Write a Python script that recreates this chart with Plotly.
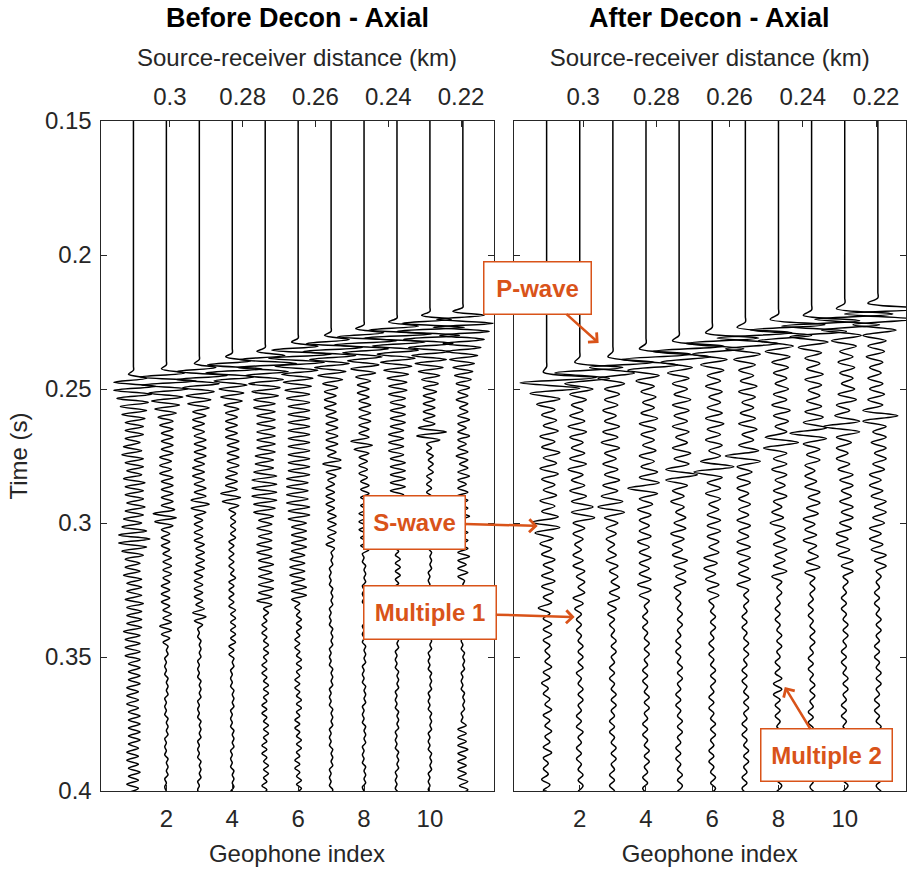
import plotly.graph_objects as go

# ---- axes data -------------------------------------------------------------
GEOPHONES = list(range(1, 12))
TIME_TICKS = [0.15, 0.2, 0.25, 0.3, 0.35, 0.4]
TIME_LABELS = ["0.15", "0.2", "0.25", "0.3", "0.35", "0.4"]
INDEX_TICKS = [2, 4, 6, 8, 10]
DIST_TICKS_KM = [0.3, 0.28, 0.26, 0.24, 0.22]
DIST_LABELS = ["0.3", "0.28", "0.26", "0.24", "0.22"]
FIRST_OFFSET_KM = 0.31          # source-receiver distance of geophone 1
GEOPHONE_SPACING_KM = 0.00905   # offset decrease per geophone
T_MIN, T_MAX = 0.15, 0.4

# ---- trace data --------------------------------------------------------------
# Each trace: first-break time (s), then the successive peak/trough
# deflections sampled every DT seconds, one base-36 character per extremum
# (unit AMP_UNIT of trace spacing), polarity alternating right/left.
AMP_UNIT = 0.05

BEFORE_DT = 0.0015
BEFORE_ONSET = [0.243, 0.241, 0.239, 0.2365, 0.2345, 0.231, 0.2285, 0.226, 0.2235, 0.221, 0.2195]
BEFORE_PEAKS = [
    ["038cecba98877", "56565465765645675656475665", "789a9876",
     "5454654545564545456454545", "4343434434343343434343343433433433"],
    ["03bgifdba9876", "54443434344343443434343", "586743",
     "232322323232232323223", "2343322", "1011010110101101011010110101101011010"],
    ["03aeheca98776", "444343343434334343343", "45654",
     "3232323323232332323232", "234432", "101101011010110101101011010110101101011010"],
    ["04bfigdb98776", "544343434434343433434", "37564",
     "2212121221212121122121212212121212212", "1011010110101101011010110101101011"],
    ["05cgjhecba988", "767656565656566565", "77878787767",
     "54454445454454445454454", "12112121121211212112121121211212112121121211212"],
    ["04cgkigeca998", "8777676767676", "76767676776767677676",
     "54545454454545445454", "121121211212112121121211212112121121211212112121"],
    ["04bfjhfdba987", "544343433434343433", "26563", "3223232322323232232",
     "0101101011010110101101011010110101101011010110101101011010110"],
    ["05cgkifdba987", "5443433434343333", "8563", "323232232323223232322323",
     "101101011010110101101011010110101101011010110101101011010110"],
    ["05dhlkhfdcba9", "876656554545454454545445454545445454454",
     "2212121121212112121211010110101101011010110101101011010110101101011"],
    ["05dhlkigedcba", "9876554443434343", "7a86",
     "2122121221212122121101101011010110101101011010110101101011010110101101011010110101101011"],
    ["06dgjigedcba9", "87665544", "33432334323432334323343233432334323343233432333",
     "101101011010110101101011010110101101", "232323332323233232"],
]

AFTER_DT = 0.002
AFTER_ONSET = [0.2417, 0.238, 0.236, 0.233, 0.23, 0.227, 0.225, 0.222, 0.2205, 0.218, 0.216]
AFTER_PEAKS = [
    ["02ugka86", "536274538264735264537", "9874", "43352435342352",
     "232322121322312213221312232121322"],
    ["03qfi986", "45263746253647253645", "8594", "3423142432313423",
     "1212112121221121211212211212112121"],
    ["03ped975", "45362546374526354637", "6975", "342413243231424323",
     "121121211212112121121211212112121121"],
    ["04rfjb86", "536253746352645374", "8b74", "4534243524342435342",
     "112121121211212112121121211212112121"],
    ["04rgjb87", "64537463546254736", "8b85", "4353243453424534243",
     "12112121121211212112121121211212112121"],
    ["04sgjc97", "73546253647354625", "7db6", "3545243535342453524434",
     "2112121121211212112121121211212112121"],
    ["05shkc97", "6453746253647254", "8c95", "45352434253425353424352",
     "12112121121211212112121121211212112121"],
    ["05shkc98", "746352635473625", "8c95", "354524353243542435243542",
     "121121211212112122323121211212112121121"],
    ["05tilda8", "64537462536475", "9d95", "5354243452534524353243542",
     "1211212112121121211212112121121211212112"],
    ["05tilea8", "73546352647536", "9d95", "4525345352435253452534525",
     "12112121121211212112121121211212112121121"],
    ["06ukmfb9", "5647352635463", "9c95", "35452534525345253452534525",
     "121121211212112121121211212112121121211212"],
]

# ---- styling -----------------------------------------------------------------
W, H = 911, 869
FONT = "Liberation Sans, Arial, Helvetica, sans-serif"
AXIS_COLOR = "#262626"
ORANGE = "#D95319"
X_RANGE = [0, 11.93]
X2_RANGE = [0, 11.85]
LEFT_DOM = [100.5 / W, 493.5 / W]
RIGHT_DOM = [513.5 / W, 906.0 / W]
Y_DOM = [1 - 791 / H, 1 - 121 / H]


def offset_km(x):
    return FIRST_OFFSET_KM - (x - 1) * GEOPHONE_SPACING_KM


def deflections(segments):
    chars = "".join(segments)
    return [int(c, 36) * AMP_UNIT * (1 if k % 2 == 0 else -1) for k, c in enumerate(chars)]


fig = go.Figure()


def add_panel(onsets, dt, peaks, xaxis, yaxis):
    for g, onset, segs in zip(GEOPHONES, onsets, peaks):
        amps = deflections(segs)
        # straight quiet trace down to the first break, then the wiggle
        xs = [g, g, g] + [g + a for a in amps]
        ys = [T_MIN, onset - 2 * dt, onset - dt] + [onset + k * dt for k in range(len(amps))]
        if ys[-1] < T_MAX:
            xs.append(g)
            ys.append(T_MAX)
        fig.add_trace(go.Scatter(
            x=xs, y=ys, mode="lines", xaxis=xaxis, yaxis=yaxis,
            line=dict(color="black", width=1.5, shape="spline", smoothing=1),
            showlegend=False, hoverinfo="skip"))


add_panel(BEFORE_ONSET, BEFORE_DT, BEFORE_PEAKS, "x", "y")
add_panel(AFTER_ONSET, AFTER_DT, AFTER_PEAKS, "x2", "y2")

# invisible anchors so the distance axes are drawn
for xa, ya in (("x3", "y"), ("x4", "y2")):
    fig.add_trace(go.Scatter(x=[DIST_TICKS_KM[0]], y=[T_MIN], mode="markers",
                             marker=dict(opacity=0), xaxis=xa, yaxis=ya,
                             showlegend=False, hoverinfo="skip"))

tick_font = dict(family=FONT, size=24, color=AXIS_COLOR)
title_font = dict(family=FONT, size=24, color=AXIS_COLOR)

bottom_common = dict(
    tickvals=INDEX_TICKS, ticktext=[str(v) for v in INDEX_TICKS],
    ticks="inside", ticklen=6, tickcolor=AXIS_COLOR, showline=True, linecolor=AXIS_COLOR,
    linewidth=1, mirror=True, showgrid=False, zeroline=False, tickfont=tick_font,
    title=dict(text="Geophone index", font=title_font, standoff=14),
    ticklabelstandoff=6, automargin=False,
)
top_common = dict(
    tickvals=DIST_TICKS_KM, ticktext=DIST_LABELS, side="top",
    ticks="inside", ticklen=6, tickcolor=AXIS_COLOR, showline=True, linecolor=AXIS_COLOR,
    linewidth=1, showgrid=False, zeroline=False, tickfont=tick_font,
    title=dict(text="Source-receiver distance (km)", font=title_font, standoff=10),
    ticklabelstandoff=5, automargin=False,
)
y_common = dict(
    range=[T_MAX, T_MIN], tickvals=TIME_TICKS, ticktext=TIME_LABELS,
    ticks="inside", ticklen=6, tickcolor=AXIS_COLOR, showline=True, linecolor=AXIS_COLOR,
    linewidth=1, mirror="ticks", showgrid=False, zeroline=False, tickfont=tick_font,
    domain=Y_DOM, automargin=False,
)

fig.update_layout(
    width=W, height=H, margin=dict(l=0, r=0, t=0, b=0, autoexpand=False),
    paper_bgcolor="white", plot_bgcolor="white",
    xaxis=dict(domain=LEFT_DOM, range=X_RANGE, anchor="y", **bottom_common),
    xaxis2=dict(domain=RIGHT_DOM, range=X2_RANGE, anchor="y2", **bottom_common),
    xaxis3=dict(overlaying="x", anchor="y",
                range=[offset_km(X_RANGE[0]), offset_km(X_RANGE[1])], **top_common),
    xaxis4=dict(overlaying="x2", anchor="y2",
                range=[offset_km(X2_RANGE[0]), offset_km(X2_RANGE[1])], **top_common),
    yaxis=dict(anchor="x", title=dict(text="Time (s)", font=title_font, standoff=10),
               ticklabelstandoff=3, **y_common),
    yaxis2=dict(anchor="x2", showticklabels=False, **y_common),
)

# panel titles
for text, dom in (("Before Decon - Axial", LEFT_DOM), ("After Decon - Axial", RIGHT_DOM)):
    fig.add_annotation(text=f"<b>{text}</b>", xref="paper", yref="paper",
                       x=(dom[0] + dom[1]) / 2, y=1 - 18 / H, showarrow=False,
                       xanchor="center", yanchor="middle",
                       font=dict(family=FONT, size=27, color="black"))

# wave labels on the deconvolved section
LABELS = [
    # text, geophone position, time, box offset (px), box size (px)
    ("P-wave", 2.57, 0.2328, -61.5, -55, 109, 54),
    ("S-wave", 0.73, 0.3011, -123.5, -3.5, 103, 55),
    ("Multiple 1", 1.846, 0.3351, -145, -4.5, 134, 55),
    ("Multiple 2", 8.19, 0.3612, 41.5, 68, 133, 54),
]
for text, gx, t, ax, ay, bw, bh in LABELS:
    fig.add_annotation(
        text=f"<b>{text}</b>", x=gx, y=t, xref="x2", yref="y2",
        ax=ax, ay=ay, axref="pixel", ayref="pixel",
        showarrow=True, arrowhead=4, arrowsize=1, arrowwidth=2.5, arrowcolor=ORANGE,
        font=dict(family=FONT, size=24, color=ORANGE),
        bgcolor="white", bordercolor=ORANGE, borderwidth=1.5, borderpad=0,
        width=bw - 3, height=bh - 3, align="center", valign="middle")

fig.write_html("out.html")
